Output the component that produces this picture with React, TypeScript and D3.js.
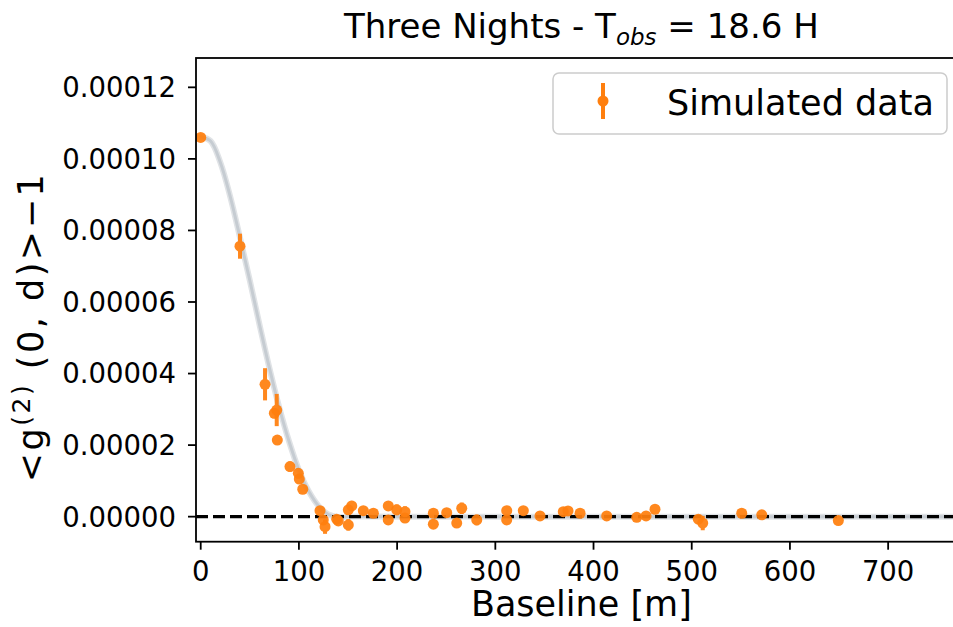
import React from "react";
import * as d3 from "d3";

// Simulated data: baseline [m], value, error half-width
const baselines = [0, 40.0, 65.5, 75.0, 77.4, 78.0, 90.9, 99.4, 100.4, 103.9, 121.5, 126.6, 124.8, 138.5, 140.1, 150.3, 150.3, 153.8, 165.6, 175.8, 191.0, 191.0, 199.6, 208.0, 208.0, 236.9, 236.9, 250.5, 260.7, 265.8, 281.1, 311.6, 311.6, 328.5, 345.5, 369.2, 374.0, 386.3, 413.4, 444.0, 453.5, 462.6, 506.7, 511.2, 550.9, 571.3, 649.3];
const values = [1.06e-4, 7.56e-5, 3.70e-5, 2.89e-5, 2.98e-5, 2.14e-5, 1.40e-5, 1.21e-5, 1.05e-5, 7.66e-6, 1.68e-6, -2.8e-6, -0.9e-6, -0.7e-6, -1.2e-6, 1.9e-6, -2.3e-6, 3.0e-6, 1.68e-6, 0.95e-6, 3.0e-6, -0.9e-6, 1.9e-6, 1.4e-6, -0.4e-6, 0.95e-6, -2.1e-6, 1.1e-6, -1.8e-6, 2.35e-6, -0.9e-6, 1.68e-6, -0.9e-6, 1.68e-6, 0.2e-6, 1.4e-6, 1.6e-6, 0.95e-6, 0.2e-6, -0.2e-6, 0.2e-6, 2.07e-6, -0.7e-6, -1.8e-6, 0.95e-6, 0.5e-6, -1.1e-6];
const errors = [0.5e-6, 3.5e-6, 4.5e-6, 1.4e-6, 4.5e-6, 1.1e-6, 1.4e-6, 1.4e-6, 1.2e-6, 1.2e-6, 1.0e-6, 2.0e-6, 1.0e-6, 1.0e-6, 1.0e-6, 1.4e-6, 1.6e-6, 1.4e-6, 1.2e-6, 1.0e-6, 1.2e-6, 1.2e-6, 1.5e-6, 1.5e-6, 1.0e-6, 1.0e-6, 1.2e-6, 1.0e-6, 1.2e-6, 1.6e-6, 1.5e-6, 1.2e-6, 1.2e-6, 1.0e-6, 1.0e-6, 1.0e-6, 1.0e-6, 1.0e-6, 1.0e-6, 1.0e-6, 1.0e-6, 1.2e-6, 1.0e-6, 2.0e-6, 1.0e-6, 1.0e-6, 1.0e-6];

// Model curves (grey band)
const modelX = [0, 10, 20, 30, 40, 50, 60, 70, 80, 90, 100, 110, 120, 130, 140, 150, 200, 400, 780];
const modelY = [1.062e-4, 1.05e-4, 9.9e-5, 8.95e-5, 7.8e-5, 6.6e-5, 5.35e-5, 4.15e-5, 3.05e-5, 2.1e-5, 1.3e-5, 7.1e-6, 3.0e-6, 0.6e-6, -0.1e-6, 0, 0, 0, 0];

const xTicks = [0, 100, 200, 300, 400, 500, 600, 700];
const yTicks = [0, 2e-5, 4e-5, 6e-5, 8e-5, 1e-4, 1.2e-4];

const W = 953, H = 627;
const left = 196, top = 58, bottom = 541.7, right = 966.7;
const FONT = "DejaVu Sans";
const ORANGE = "#ff7f0e";

export default function App() {
  const x = d3.scaleLinear().domain([-4.8, 780]).range([left, right]);
  const y = d3.scaleLinear().domain([-7e-6, 1.282e-4]).range([bottom, top]);
  const fmt = d3.format(".5f");

  const model = modelX.map((mx, i) => ({ x: mx, y: modelY[i] }));
  const line = d3.line<any>().x(d => x(d.x)).y(d => y(d.y)).curve(d3.curveCatmullRom.alpha(0.5));
  const modelPath = line(model) || "";

  return (
    <svg width={W} height={H} style={{ position: "fixed", left: 0, top: 0, background: "#fff" }} fontFamily={FONT}>
      <defs>
        <clipPath id="plot">
          <rect x={left} y={top} width={right - left} height={bottom - top} />
        </clipPath>
      </defs>
      <rect x={0} y={0} width={W} height={H} fill="#fff" />
      {/* title */}
      <text x={(left + right) / 2} y={38} textAnchor="middle" fontSize={34} fill="#000">
        <tspan>Three Nights - T</tspan>
        <tspan fontStyle="italic" fontSize={23} dy={7}>obs</tspan>
        <tspan dy={-7}> = 18.6 H</tspan>
      </text>

      <g clipPath="url(#plot)">
        <path d={modelPath} fill="none" stroke="#e0e3e6" strokeWidth={6} strokeLinecap="round" />
        <path d={modelPath} fill="none" stroke="#c6ccd2" strokeWidth={3} strokeLinecap="round" />
        <line x1={left} x2={right} y1={y(0)} y2={y(0)} stroke="#000" strokeWidth={3.4} strokeDasharray="12,5" />
        {baselines.map((b, i) => (
          <g key={i} opacity={0.93}>
            <line x1={x(b)} x2={x(b)} y1={y(values[i] - errors[i])} y2={y(values[i] + errors[i])} stroke={ORANGE} strokeWidth={4} />
            <circle cx={x(b)} cy={y(values[i])} r={5.5} fill={ORANGE} />
          </g>
        ))}
      </g>

      {/* spines */}
      <rect x={left} y={top} width={right - left} height={bottom - top} fill="none" stroke="#000" strokeWidth={1.8} />

      {/* y ticks */}
      {yTicks.map(t => (
        <g key={t}>
          <line x1={left - 8} x2={left} y1={y(t)} y2={y(t)} stroke="#000" strokeWidth={1.8} />
          <text x={left - 20} y={y(t)} dy="0.36em" textAnchor="end" fontSize={27.5} fill="#000">{fmt(t)}</text>
        </g>
      ))}
      {/* x ticks */}
      {xTicks.map(t => (
        <g key={t}>
          <line x1={x(t)} x2={x(t)} y1={bottom} y2={bottom + 8} stroke="#000" strokeWidth={1.8} />
          <text x={x(t)} y={581} textAnchor="middle" fontSize={27.5} fill="#000">{t}</text>
        </g>
      ))}

      {/* axis labels */}
      <text x={(left + right) / 2} y={616} textAnchor="middle" fontSize={35} fill="#000">Baseline [m]</text>
      <text transform="translate(43,327) rotate(-90)" textAnchor="middle" fontSize={35} fill="#000" letterSpacing={2.5}>
        <tspan>&lt;g</tspan>
        <tspan fontSize={25} dy={-13}>(2)</tspan>
        <tspan dy={13}> (0, d)&gt;−1</tspan>
      </text>

      {/* legend */}
      <rect x={553} y={73} width={394} height={61} rx={6} fill="#fff" fillOpacity={0.8} stroke="#cccccc" strokeWidth={1.5} />
      <line x1={603} x2={603} y1={83} y2={119} stroke={ORANGE} strokeWidth={4} />
      <circle cx={603} cy={101} r={5.5} fill={ORANGE} />
      <text x={667} y={115} fontSize={35} fill="#000">Simulated data</text>
    </svg>
  );
}
